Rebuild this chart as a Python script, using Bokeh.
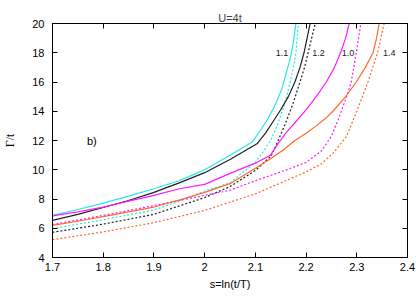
from bokeh.plotting import figure
from bokeh.models import LinearAxis, FixedTicker, CustomJSTickFormatter, Range1d
from bokeh.core.properties import value
from bokeh.embed import file_html
from bokeh.resources import INLINE

# ---- data ----
x_ticks = [1.7, 1.8, 1.9, 2.0, 2.1, 2.2, 2.3, 2.4]
y_ticks = [4, 6, 8, 10, 12, 14, 16, 18, 20]

s_cyan_solid = [1.70, 1.75, 1.80, 1.85, 1.90, 1.95, 1.98, 2.00, 2.03, 2.06, 2.094, 2.11, 2.125, 2.14, 2.152, 2.16, 2.168, 2.174, 2.18]
g_cyan_solid = [6.88, 7.28, 7.72, 8.20, 8.70, 9.25, 9.70, 10.0, 10.6, 11.2, 11.9, 12.7, 13.5, 14.5, 15.5, 16.5, 17.5, 18.5, 20.0]

s_black_solid = [1.70, 1.75, 1.80, 1.85, 1.90, 1.95, 2.00, 2.05, 2.104, 2.12, 2.135, 2.15, 2.165, 2.178, 2.188, 2.196, 2.202, 2.208]
g_black_solid = [6.54, 6.95, 7.42, 7.90, 8.45, 9.10, 9.80, 10.7, 11.8, 12.5, 13.3, 14.1, 15.0, 16.0, 17.0, 18.0, 19.0, 20.0]

s_magenta_solid = [1.70, 1.75, 1.80, 1.85, 1.90, 1.95, 2.00, 2.05, 2.10, 2.13, 2.145, 2.16, 2.18, 2.20, 2.22, 2.24, 2.256, 2.268, 2.278, 2.285]
g_magenta_solid = [6.85, 7.12, 7.45, 7.85, 8.25, 8.70, 9.00, 9.75, 10.45, 11.0, 11.8, 12.5, 13.3, 14.1, 15.0, 16.0, 17.0, 18.0, 19.0, 20.0]

s_orange_solid = [1.70, 1.75, 1.80, 1.85, 1.90, 1.95, 2.00, 2.05, 2.10, 2.13, 2.155, 2.178, 2.20, 2.22, 2.238, 2.253, 2.278, 2.299, 2.317, 2.332, 2.339, 2.344]
g_orange_solid = [6.20, 6.48, 6.80, 7.12, 7.45, 7.92, 8.45, 9.05, 10.1, 10.75, 11.35, 12.0, 12.5, 13.0, 13.5, 14.0, 15.0, 16.0, 17.0, 18.0, 19.0, 20.0]

s_cyan_dot = [1.70, 1.80, 1.90, 1.95, 2.00, 2.05, 2.10, 2.115, 2.13, 2.143, 2.155, 2.166, 2.174, 2.18, 2.185]
g_cyan_dot = [5.98, 6.58, 7.25, 7.85, 8.55, 9.10, 10.5, 11.2, 12.0, 13.0, 14.2, 15.6, 16.8, 18.0, 20.0]

s_black_dot = [1.70, 1.80, 1.90, 2.00, 2.05, 2.10, 2.13, 2.14, 2.15, 2.162, 2.175, 2.188, 2.197, 2.204, 2.211, 2.218]
g_black_dot = [5.72, 6.28, 6.95, 8.10, 8.85, 9.95, 10.9, 11.6, 12.4, 13.4, 14.6, 16.0, 17.0, 18.0, 19.0, 20.0]

s_magenta_dot = [1.70, 1.80, 1.90, 2.00, 2.05, 2.10, 2.15, 2.20, 2.231, 2.25, 2.263, 2.28, 2.289, 2.299, 2.308]
g_magenta_dot = [6.25, 6.88, 7.55, 8.25, 8.60, 9.25, 9.85, 10.5, 11.3, 12.3, 13.4, 15.0, 16.0, 18.0, 20.0]

s_orange_dot = [1.70, 1.80, 1.90, 2.00, 2.10, 2.20, 2.23, 2.255, 2.28, 2.30, 2.322, 2.341, 2.354]
g_orange_dot = [5.22, 5.75, 6.38, 7.22, 8.35, 9.85, 10.4, 11.2, 12.3, 14.0, 16.0, 18.0, 20.0]

curve_labels = ["1.1", "1.2", "1.0", "1.4"]
curve_label_s = [2.1525, 2.2245, 2.2827, 2.364]
curve_label_g = [18, 18, 18, 18]

panel_text = ["b)"]
panel_s = [1.768]
panel_g = [12]

# ---- styles ----
CYAN = "#22e8e8"
BLACK = "#202020"
MAGENTA = "#ff1aff"
ORANGE = "#ff6a2a"
FONT = "Liberation Sans"

p = figure(width=416, height=296,
           x_range=Range1d(1.7, 2.4), y_range=Range1d(4, 20),
           output_backend="svg", toolbar_location=None,
           min_border_left=48, min_border_right=9,
           min_border_top=23, min_border_bottom=39,
           title="U=4t")
p.title.align = "center"
p.title.text_font = FONT
p.title.text_font_size = "11px"
p.title.text_font_style = "normal"
p.title.standoff = 0
p.title.offset = 0

p.xgrid.visible = False
p.ygrid.visible = False
p.outline_line_color = "black"
p.outline_line_width = 1
p.outline_line_alpha = 1

xt = FixedTicker(ticks=x_ticks)
yt = FixedTicker(ticks=y_ticks)
fmt = CustomJSTickFormatter(code="return String(Math.round(tick*10)/10);")
empty = CustomJSTickFormatter(code="return '';")

for ax in [p.xaxis[0], p.yaxis[0]]:
    ax.major_tick_in = 5
    ax.major_tick_out = 0
    ax.minor_tick_in = 0
    ax.minor_tick_out = 0
    ax.axis_line_color = "black"
    ax.major_tick_line_color = "black"
    ax.major_label_text_font = FONT
    ax.major_label_text_font_size = "11px"
    ax.major_label_text_color = "black"
    ax.axis_label_text_font_style = "normal"
    ax.axis_label_text_color = "black"

p.xaxis[0].ticker = xt
p.xaxis[0].formatter = fmt
p.xaxis[0].major_label_standoff = 5
p.xaxis[0].axis_label = "s=ln(t/T)"
p.xaxis[0].axis_label_text_font = FONT
p.xaxis[0].axis_label_text_font_size = "11px"
p.xaxis[0].axis_label_standoff = 4

p.yaxis[0].ticker = yt
p.yaxis[0].major_label_standoff = 8
p.yaxis[0].axis_label = "Γ/t"
p.yaxis[0].axis_label_text_font = "Liberation Serif"
p.yaxis[0].axis_label_text_font_size = "12px"
p.yaxis[0].axis_label_standoff = 12

top = LinearAxis(ticker=xt, formatter=empty)
right = LinearAxis(ticker=yt, formatter=empty)
for ax in [top, right]:
    ax.major_tick_in = 5
    ax.major_tick_out = 0
    ax.minor_tick_in = 0
    ax.minor_tick_out = 0
    ax.major_label_standoff = 0
    ax.major_label_text_font_size = "1px"
    ax.axis_line_color = "black"
    ax.major_tick_line_color = "black"
p.add_layout(top, "above")
p.add_layout(right, "right")

solid_w = 1.2
dot_w = 1.2
p.line(s_cyan_dot, g_cyan_dot, line_color=CYAN, line_width=dot_w, line_dash="2 2")
p.line(s_black_dot, g_black_dot, line_color=BLACK, line_width=dot_w, line_dash="2 2")
p.line(s_magenta_dot, g_magenta_dot, line_color=MAGENTA, line_width=dot_w, line_dash="2 2")
p.line(s_orange_dot, g_orange_dot, line_color=ORANGE, line_width=dot_w, line_dash="2 2")
p.line(s_cyan_solid, g_cyan_solid, line_color=CYAN, line_width=solid_w)
p.line(s_black_solid, g_black_solid, line_color=BLACK, line_width=solid_w)
p.line(s_magenta_solid, g_magenta_solid, line_color=MAGENTA, line_width=solid_w)
p.line(s_orange_solid, g_orange_solid, line_color=ORANGE, line_width=solid_w)

p.text(x=curve_label_s, y=curve_label_g, text=curve_labels,
       text_font=value(FONT), text_font_size=value("9px"),
       text_align="center", text_baseline="middle", text_color="#222222")
p.text(x=panel_s, y=panel_g, text=panel_text,
       text_font=value(FONT), text_font_size=value("11px"),
       text_align="left", text_baseline="middle", text_color="black")

open("out.html", "w").write(file_html(p, INLINE))
